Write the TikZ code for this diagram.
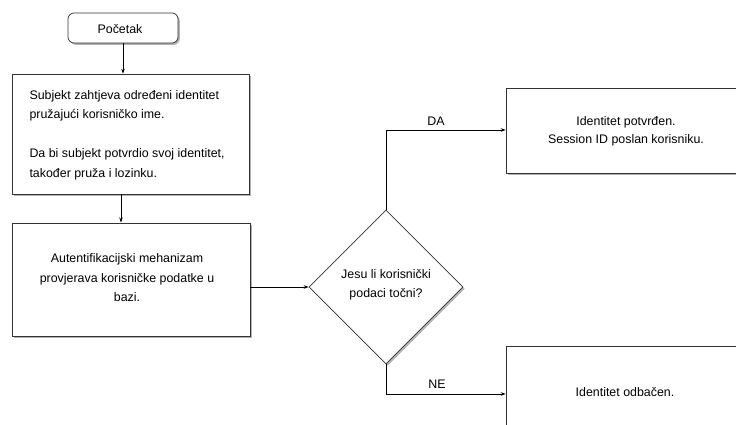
\documentclass[tikz,border=0pt]{standalone}
\usepackage{fontspec}
\setmainfont{Liberation Sans}
\usetikzlibrary{arrows.meta,shapes.geometric,shadows}
\begin{document}
\begin{tikzpicture}[x=1pt,y=-1pt,
  every node/.style={font=\fontsize{12.4}{19.5}\selectfont},
  box/.style={draw=black!80, line width=0.7pt, fill=white, inner sep=0pt,
    drop shadow={shadow xshift=1.8pt, shadow yshift=-1.8pt, opacity=0.5, fill=black!60}},
  conn/.style={line width=0.6pt, -{Stealth[length=5pt,width=3.5pt]}},
  lbl/.style={font=\fontsize{12.4}{14}\selectfont}]
\clip (0,0) rectangle (736,425);
\fill[white] (0,0) rectangle (736,425);

\node[box, rounded corners=6pt, minimum width=110pt, minimum height=30pt] (start) at (123,28) {};
\node (startt) at (120,29) {Početak};

\node[box, minimum width=237pt, minimum height=120pt] (s1) at (130.5,134) {};
\node[anchor=west, align=left] (s1t) at (26,135) {Subjekt zahtjeva određeni identitet\\pružajući korisničko ime.\\[19.5pt]Da bi subjekt potvrdio svoj identitet,\\također pruža i lozinku.};

\node[box, minimum width=238pt, minimum height=113pt] (s2) at (131,279.5) {};
\node[align=center] (s2t) at (127,278) {Autentifikacijski mehanizam\\provjerava korisničke podatke u\\bazi.};

\node[box, diamond, minimum width=154pt, minimum height=154pt, inner sep=0pt, align=center] (dec) at (386,287) {};
\node[align=center] (dect) at (386,285) {Jesu li korisnički\\podaci točni?};

\node[box, minimum width=244pt, minimum height=85pt] (yes) at (628,130.5) {};
\node[align=center, font=\fontsize{12.4}{18}\selectfont] (yest) at (626,131) {Identitet potvrđen.\\Session ID poslan korisniku.};

\node[box, minimum width=244pt, minimum height=92pt, align=center] (no) at (628,392) {};
\node (not) at (625,392) {Identitet odbačen.};

\draw[conn] (start.south) -- (start.south |- s1.north);
\draw[conn] (s1.south -| 121,0) -- (121,222.5);
\draw[conn] (s2.east |- dec.west) -- (dec.west);
\coordinate (ya) at (386,130);
\coordinate (na) at (386,394);
\draw[conn] (dec.north) -- (ya) -- (ya -| yes.west);
\draw[conn] (dec.south) -- (na) -- (na -| no.west);
\node[lbl] (da) at (436,121) {DA};
\node[lbl] (ne) at (437,384) {NE};
\end{tikzpicture}
\end{document}
